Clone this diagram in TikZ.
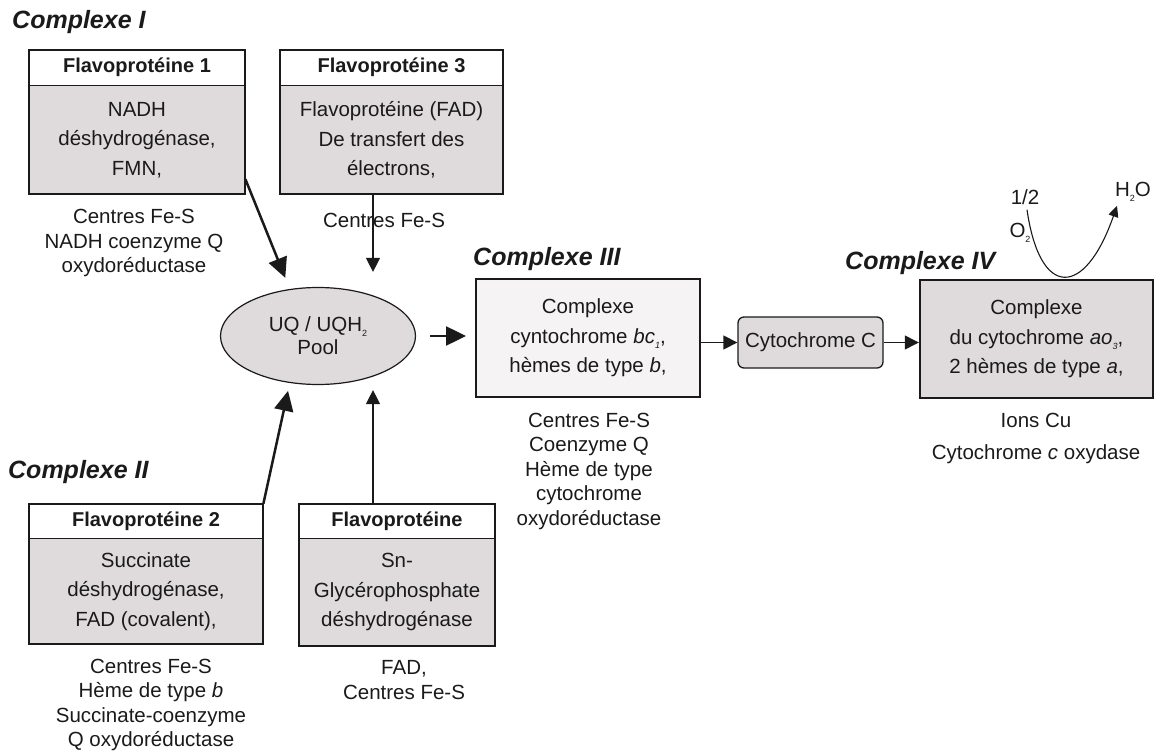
\documentclass[tikz,border=0pt]{standalone}
\usepackage{fontspec}
\setmainfont{Liberation Sans}
\usetikzlibrary{arrows.meta,positioning,shapes.geometric,calc}
\definecolor{boxgray}{HTML}{DFDBDC}
\definecolor{boxlight}{HTML}{F5F3F3}
\definecolor{ink}{HTML}{1A1A1A}
\newcommand{\lowsub}[1]{\raisebox{-0.45ex}{\fontsize{9}{9}\selectfont #1}}

\begin{document}
\begin{tikzpicture}[x=1pt,y=-1pt,text=ink,
  font=\fontsize{20.5}{29.5}\selectfont,
  cplx/.style={font=\fontsize{25}{30}\selectfont\bfseries\itshape,anchor=west,inner sep=0pt},
  hdr/.style={draw=ink,line width=0.8pt,fill=white,font=\fontsize{20}{24}\selectfont\bfseries,minimum height=35pt,inner sep=0pt},
  body/.style={draw=ink,line width=0.8pt,fill=boxgray,align=center,inner sep=0pt,below=0pt of #1},
  outline/.style={draw=ink,line width=2pt},
  note/.style={align=center,inner sep=0pt,font=\fontsize{20.5}{24.5}\selectfont},
  bigarrow/.style={-{Triangle[length=20pt,width=19pt]},line width=2.5pt,draw=ink},
  thinarrow/.style={-{Triangle[length=14pt,width=14pt]},line width=1.3pt,draw=ink},
  curvearrow/.style={-{Triangle[length=11pt,width=10pt]},line width=1.1pt,draw=ink}]
  \useasboundingbox (0,0) rectangle (1157,754);
  % complexe I
  \node[cplx] (lab1) at (12,22) {Complexe I};
  \node[hdr,minimum width=216pt] (f1h) at (137,67.5) {Flavoprotéine 1};
  \node[body=f1h,minimum width=216pt,minimum height=108pt] (f1) {NADH\\déshydrogénase,\\FMN,};
  \draw[outline] (f1h.north west) rectangle (f1.south east);
  \node[note] (n1) at (134,243) {Centres Fe-S\\NADH coenzyme Q\\oxydoréductase};
  \node[hdr,minimum width=223pt] (f3h) at (391.5,67.5) {Flavoprotéine 3};
  \node[body=f3h,minimum width=223pt,minimum height=108pt] (f3) {Flavoprotéine (FAD)\\De transfert des\\électrons,};
  \draw[outline] (f3h.north west) rectangle (f3.south east);
  \node[note] (n3) at (384,220) {Centres Fe-S};
  % pool
  \node[ellipse,draw=ink,line width=1.2pt,fill=boxgray,minimum width=195pt,minimum height=97pt,align=center,
    font=\fontsize{20.5}{23}\selectfont] (pool) at (318,336) {UQ / UQH\lowsub{2}\\Pool};
  % complexe II
  \node[cplx] (lab2) at (8,472) {Complexe II};
  \node[hdr,minimum width=234pt,minimum height=34pt] (f2h) at (146,521) {Flavoprotéine 2};
  \node[body=f2h,minimum width=234pt,minimum height=105pt] (f2) {Succinate\\déshydrogénase,\\FAD (covalent),};
  \draw[outline] (f2h.north west) rectangle (f2.south east);
  \node[note] (n2) at (151,705) {Centres Fe-S\\Hème de type \textit{b}\\Succinate-coenzyme\\Q oxydoréductase};
  \node[hdr,minimum width=196pt,minimum height=34pt] (fgh) at (397,521) {Flavoprotéine};
  \node[body=fgh,minimum width=196pt,minimum height=107pt] (fg) {Sn-\\Glycérophosphate\\déshydrogénase};
  \draw[outline] (fgh.north west) rectangle (fg.south east);
  \node[note] (ng) at (404,680) {FAD,\\Centres Fe-S};
  % complexe III
  \node[cplx] (lab3) at (473,259) {Complexe III};
  \node[draw=ink,line width=2pt,fill=boxlight,minimum width=224pt,minimum height=118pt,align=center] (c3) at (588,338)
    {Complexe\\cyntochrome \textit{bc\lowsub{1}},\\hèmes de type \textit{b},};
  \node[note] (n3c) at (589,471) {Centres Fe-S\\Coenzyme Q\\Hème de type\\cytochrome\\oxydoréductase};
  \node[draw=ink,line width=1.3pt,fill=boxgray,rounded corners=6pt,minimum width=145pt,minimum height=51pt] (cyt) at (810.5,342.5) {Cytochrome C};
  % complexe IV
  \node[cplx] (lab4) at (845,263) {Complexe IV};
  \node[draw=ink,line width=2.4pt,fill=boxgray,minimum width=233pt,minimum height=118pt,align=center] (c4) at (1036.5,339)
    {Complexe\\du cytochrome \textit{ao\lowsub{3}},\\2 hèmes de type \textit{a},};
  \node[note] (n4a) at (1036,420) {Ions Cu};
  \node[note] (n4b) at (1036,454) {Cytochrome \textit{c} oxydase};
  \node[inner sep=0pt] (half) at (1025,197) {1/2};
  \node[inner sep=0pt] (otwo) at (1020,233) {O\lowsub{2}};
  \node[inner sep=0pt] (water) at (1133,192) {H\lowsub{2}O};
  % arrows
  \draw[bigarrow,shorten >=12pt] ([yshift=15pt]f1.south east) -- (pool.121);
  \draw[thinarrow,shorten >=15pt] ([xshift=-18.5pt]f3.south) -- ([xshift=-18.5pt]f3.south |- pool.north);
  \draw[bigarrow,shorten >=8pt] (f2h.north east) -- (pool.239);
  \draw[thinarrow,shorten >=5pt] ([xshift=-24pt]fgh.north) -- ([xshift=-24pt]fgh.north |- pool.south);
  \draw[bigarrow,shorten <=14pt,shorten >=9pt] (pool.east) -- (pool.east -| c3.west);
  \draw[thinarrow] (c3.east |- cyt.west) -- (cyt.west);
  \draw[thinarrow] (cyt.east) -- (cyt.east -| c4.west);
  \draw[curvearrow] ([xshift=2pt,yshift=-5pt]half.south) .. controls +(13,90) and +(-32,92) .. ([xshift=-16pt,yshift=-4pt]water.south);
\end{tikzpicture}
\end{document}
